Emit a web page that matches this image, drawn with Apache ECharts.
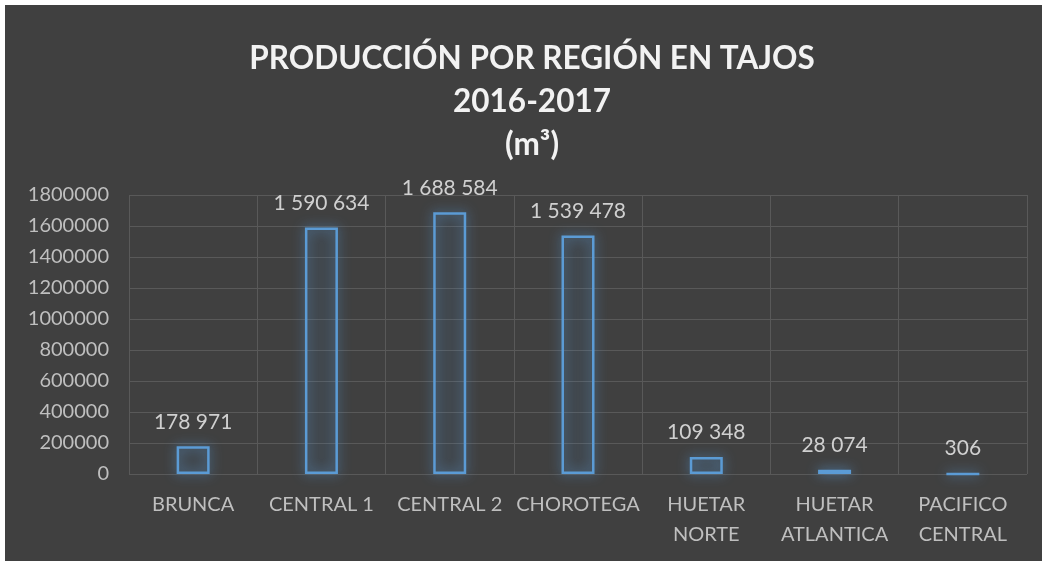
<!DOCTYPE html>
<html>
<head>
<meta charset="utf-8">
<script src="https://cdn.jsdelivr.net/npm/echarts@6/dist/echarts.min.js"></script>
<style>
  html, body { margin: 0; padding: 0; background: #fff; }
  #main { position: absolute; left: 5px; top: 5px; width: 1037px; height: 556px; background: #404040; }
</style>
</head>
<body>
<div id="main"></div>
<script>
// regiones y producción (m³)
var regiones = ["BRUNCA", "CENTRAL 1", "CENTRAL 2", "CHOROTEGA", "HUETAR\nNORTE", "HUETAR\nATLANTICA", "PACIFICO\nCENTRAL"];
var produccion = [178971, 1590634, 1688584, 1539478, 109348, 28074, 306];
var yTicks = [0, 1800000, 200000]; // min, max, intervalo

// separador de miles con espacio
function formatoMiles(v) {
  return String(v).replace(/\B(?=(\d{3})+(?!\d))/g, " ");
}

var chartDom = document.getElementById("main");
var myChart = echarts.init(chartDom);
var option = {
  backgroundColor: "#404040",
  title: {
    text: "PRODUCCIÓN POR REGIÓN EN TAJOS\n2016-2017\n(m³)",
    left: 522,
    top: 27,
    textAlign: "center",
    textStyle: {
      color: "#f2f2f2",
      fontFamily: "Lato",
      fontWeight: "bold",
      fontSize: 31.5,
      lineHeight: 43,
    },
  },
  // posición
  grid: {
    left: 124,
    right: 15,
    top: 190,
    bottom: 87,
  },
  xAxis: {
    type: "category",
    data: regiones,
    axisLine: { show: false },
    axisTick: { show: false },
    splitLine: { show: true, lineStyle: { color: "#595959", width: 1 } },
    axisLabel: {
      color: "#bfbfbf",
      fontFamily: "Lato",
      fontSize: 20,
      lineHeight: 30,
      margin: 16,
      interval: 0,
    },
  },
  yAxis: {
    type: "value",
    min: yTicks[0],
    max: yTicks[1],
    interval: yTicks[2],
    axisLine: { show: false },
    axisTick: { show: false },
    splitLine: { lineStyle: { color: "#595959", width: 1 } },
    axisLabel: {
      color: "#bfbfbf",
      fontFamily: "Lato",
      fontSize: 20,
      margin: 20,
      formatter: function (v) {
        return String(v);
      },
    },
  },
  series: [
    {
      type: "bar",
      data: produccion,
      barWidth: 33,
      itemStyle: {
        color: "rgba(91,155,213,0.05)",
        borderColor: "#5b9bd5",
        borderWidth: 2.5,
        shadowBlur: 12,
        shadowColor: "rgba(91,155,213,0.9)",
      },
      label: {
        show: true,
        position: "top",
        distance: 14,
        color: "#d0d0d0",
        fontFamily: "Lato",
        fontSize: 21,
        formatter: function (p) {
          return formatoMiles(p.value);
        },
      },
    },
  ],
};
option && myChart.setOption(option);
</script>
</body>
</html>
